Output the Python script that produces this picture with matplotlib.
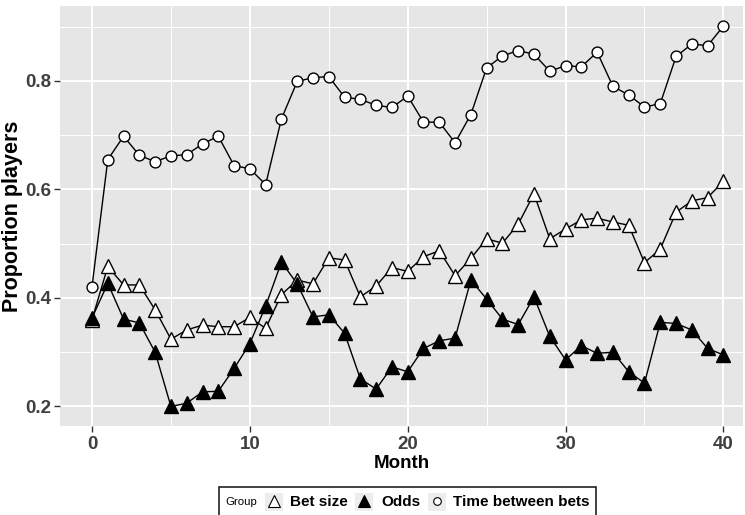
import numpy as np
import matplotlib.pyplot as plt
from matplotlib.lines import Line2D
from matplotlib.patches import Rectangle
from matplotlib.offsetbox import AnchoredOffsetbox, HPacker, TextArea, DrawingArea
from matplotlib.ticker import MultipleLocator

plt.rcParams['font.family'] = ['Liberation Sans', 'DejaVu Sans']

months = np.arange(41)

bet_size = [0.36, 0.458, 0.424, 0.424, 0.378, 0.324, 0.341, 0.350, 0.347, 0.347,
            0.364, 0.344, 0.406, 0.433, 0.426, 0.474, 0.470, 0.402, 0.422, 0.456,
            0.449, 0.476, 0.487, 0.441, 0.473, 0.509, 0.501, 0.536, 0.592, 0.509,
            0.527, 0.544, 0.547, 0.540, 0.534, 0.465, 0.490, 0.558, 0.579, 0.585,
            0.615]

odds = [0.363, 0.427, 0.361, 0.354, 0.300, 0.200, 0.206, 0.227, 0.228, 0.270,
        0.316, 0.385, 0.466, 0.426, 0.365, 0.369, 0.335, 0.251, 0.232, 0.273,
        0.264, 0.307, 0.321, 0.326, 0.433, 0.398, 0.361, 0.351, 0.402, 0.329,
        0.286, 0.312, 0.298, 0.300, 0.264, 0.243, 0.355, 0.353, 0.341, 0.307,
        0.295]

time_between = [0.421, 0.655, 0.698, 0.663, 0.651, 0.662, 0.664, 0.684, 0.698, 0.644,
                0.638, 0.609, 0.730, 0.799, 0.806, 0.808, 0.770, 0.766, 0.755, 0.751,
                0.772, 0.724, 0.724, 0.686, 0.738, 0.824, 0.846, 0.856, 0.849, 0.818,
                0.828, 0.826, 0.853, 0.790, 0.774, 0.752, 0.758, 0.845, 0.868, 0.865,
                0.901]

groups = ["Bet size", "Odds", "Time between bets"]
series = [bet_size, odds, time_between]
markers = ['^', '^', 'o']
faces = ['white', 'black', 'white']
msizes = [10.5, 10.5, 7.8]

fig = plt.figure(figsize=(7.45, 5.15), dpi=100)
ax = fig.add_axes([0.0805, 0.1728, 0.917, 0.8155])
ax.set_facecolor('#e6e6e6')

# lines first, then points on top (like ggplot layers)
for vals in series:
    ax.plot(months, vals, color='black', lw=1.0, zorder=3)
for vals, m, fc, ms in zip(series, markers, faces, msizes):
    ax.plot(months, vals, linestyle='none', marker=m, markersize=ms,
            markerfacecolor=fc, markeredgecolor='black', markeredgewidth=1.0, zorder=4)

ax.set_xlim(-2.03, 41.25)
ax.set_ylim(0.164, 0.938)
ax.xaxis.set_major_locator(MultipleLocator(10))
ax.xaxis.set_minor_locator(MultipleLocator(5))
ax.yaxis.set_minor_locator(MultipleLocator(0.1))
ax.set_yticks([0.2, 0.4, 0.6, 0.8])
ax.set_yticklabels(['0.2', '0.4', '0.6', '0.8'])
ax.grid(which='major', color='white', lw=1.4)
ax.grid(which='minor', color='white', lw=0.7)
ax.set_axisbelow(True)
for s in ax.spines.values():
    s.set_visible(False)
ax.tick_params(which='major', length=4, width=1, color='#333333',
               labelsize=13.5, labelcolor='#404040')
ax.tick_params(axis='x', pad=3.5)
ax.tick_params(axis='y', pad=2)
ax.tick_params(which='minor', length=0)
for lab in ax.get_xticklabels() + ax.get_yticklabels():
    lab.set_fontweight('bold')

ax.set_xlabel("Month", fontsize=13.5, fontweight='bold', labelpad=1)
ax.set_ylabel("Proportion players", fontsize=15.5, fontweight='bold', labelpad=2)

# legend in one row with the "Group" title on the left
items = [TextArea("Group", textprops=dict(fontsize=8.2, color='black'))]
for g, m, fc in zip(groups, markers, faces):
    da = DrawingArea(13, 13, 0, 0)
    da.add_artist(Rectangle((0, 0), 13, 13, facecolor='#ededed', edgecolor='none'))
    da.add_artist(Line2D([6.5], [7], marker=m, markersize=8 if m == '^' else 5.5,
                         markerfacecolor=fc, markeredgecolor='black', markeredgewidth=0.8))
    items.append(da)
    items.append(TextArea(g, textprops=dict(fontsize=11, fontweight='bold', color='black')))
row = HPacker(children=items, align='center', pad=0, sep=5.4)
box = AnchoredOffsetbox(loc='upper center', child=row, pad=0.43, borderpad=0,
                        frameon=True, bbox_to_anchor=(0.547, 0.0545),
                        bbox_transform=fig.transFigure)
box.patch.set_edgecolor('#222222')
box.patch.set_linewidth(1.2)
box.patch.set_boxstyle('square', pad=0)
ax.add_artist(box)

fig.savefig('out.png', dpi=100)
